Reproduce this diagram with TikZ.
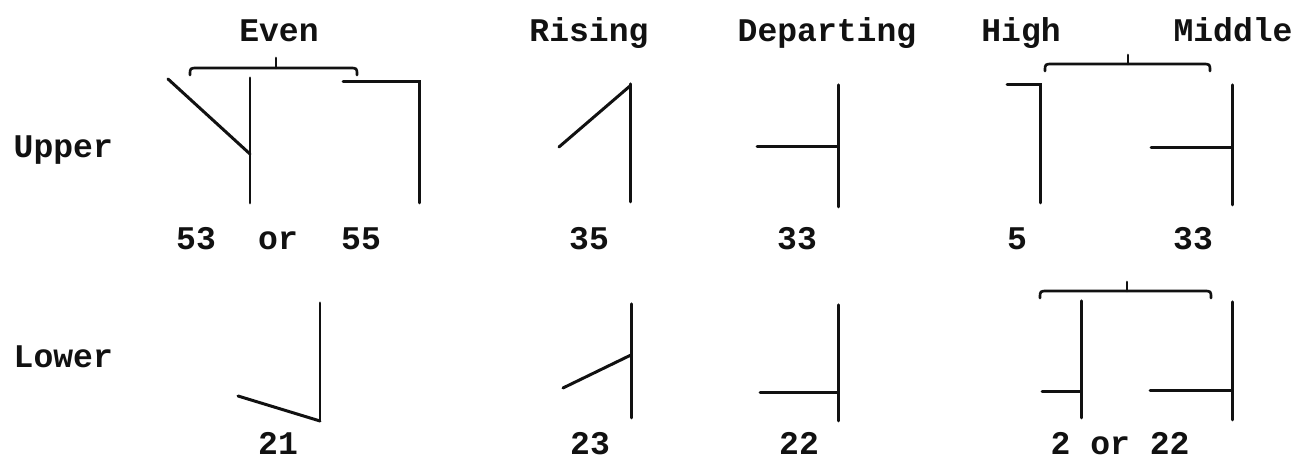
\documentclass[tikz,border=0pt]{standalone}
\usepackage{fontspec}
\setmonofont{Liberation Mono}
\usepackage{tikz}
\definecolor{ink}{HTML}{111111}
\tikzset{
  tonestroke/.style={draw=ink, line width=0.85pt, line cap=round},
  tonebrace/.style={draw=ink, line width=0.75pt, line cap=round, line join=round},
  tonetext/.style={inner sep=0pt, text=ink,
    font=\ttfamily\bfseries\fontsize{9.4}{11}\selectfont},
  headlabel/.style={tonetext, anchor=base},
  rowlabel/.style={tonetext, anchor=base west},
  numlabel/.style={tonetext, anchor=base},
}
\begin{document}
\begin{tikzpicture}[x=0.01cm, y=-0.01cm]
\useasboundingbox (0,0) rectangle (1300,459);
\node[headlabel] (even) at (279,42) {Even};
\node[headlabel] (rising) at (589,42) {Rising};
\node[headlabel] (departing) at (827,42) {Departing};
\node[headlabel] (high) at (1021,42) {High};
\node[headlabel] (middle) at (1233,42) {Middle};
\node[rowlabel] (upper) at (13,158) {Upper};
\node[rowlabel] (lower) at (13,368) {Lower};
% upper register
\draw[tonebrace] (190,75) .. controls (190,68) .. (198,68) -- (349,68)
  .. controls (357,68) .. (357,75);
\draw[tonebrace] (276,68) -- (276,58);
\draw[tonestroke] (250,78) -- (250,203);
\draw[tonestroke] (168,79) -- (250,154);
\draw[tonestroke] (343,82) -- (419,82) -- (419,203);
\draw[tonestroke] (630,84) -- (630,202);
\draw[tonestroke] (559,147) -- (630,86);
\draw[tonestroke] (838,85) -- (838,207);
\draw[tonestroke] (757,147) -- (838,147);
\draw[tonebrace] (1045,71) .. controls (1045,64) .. (1053,64) -- (1202,64)
  .. controls (1210,64) .. (1210,71);
\draw[tonebrace] (1128,64) -- (1128,55);
\draw[tonestroke] (1007,85) -- (1040,85) -- (1040,203);
\draw[tonestroke] (1232,85) -- (1232,205);
\draw[tonestroke] (1151,148) -- (1232,148);
\node[numlabel] (t53) at (196,250) {53};
\node[numlabel] (tor) at (278,250) {or};
\node[numlabel] (t55) at (361,250) {55};
\node[numlabel] (t35) at (589,250) {35};
\node[numlabel] (t33) at (797,250) {33};
\node[numlabel] (t5) at (1017,250) {5};
\node[numlabel] (t33m) at (1193,250) {33};
% lower register
\draw[tonestroke] (320,303) -- (320,421);
\draw[tonestroke] (238,396) -- (320,421);
\draw[tonestroke] (631,304) -- (631,418);
\draw[tonestroke] (563,388) -- (631,355);
\draw[tonestroke] (838,305) -- (838,421);
\draw[tonestroke] (760,393) -- (838,393);
\draw[tonebrace] (1040,298) .. controls (1040,291) .. (1048,291) -- (1203,291)
  .. controls (1211,291) .. (1211,298);
\draw[tonebrace] (1127,291) -- (1127,282);
\draw[tonestroke] (1081,301) -- (1081,418);
\draw[tonestroke] (1042,392) -- (1081,392);
\draw[tonestroke] (1232,302) -- (1232,420);
\draw[tonestroke] (1150,391) -- (1232,391);
\node[numlabel] (t21) at (278,455) {21};
\node[numlabel] (t23) at (590,455) {23};
\node[numlabel] (t22) at (799,455) {22};
\node[numlabel] (t2or22) at (1120,455) {2 or 22};
\end{tikzpicture}
\end{document}
